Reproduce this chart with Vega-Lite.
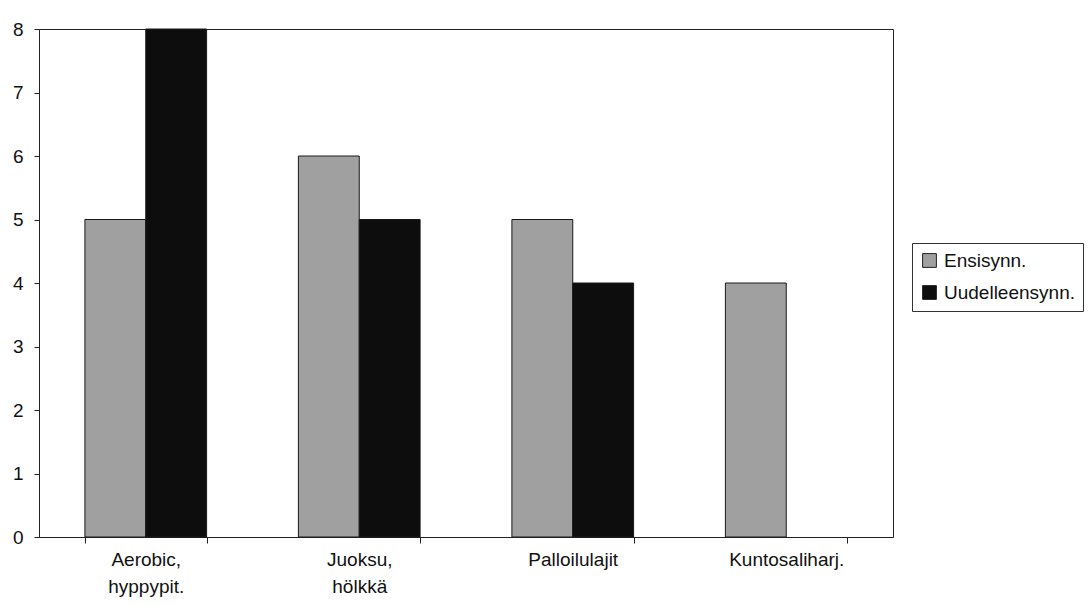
{
  "$schema": "https://vega.github.io/schema/vega-lite/v6.json",
  "autosize": "none",
  "width": 854,
  "height": 508,
  "padding": {"left": 39, "top": 29, "right": 196, "bottom": 68},
  "background": "white",
  "config": {
    "font": "Liberation Sans",
    "view": {"stroke": "#222", "strokeWidth": 1}
  },
  "data": {
    "values": [
      {"laji": "Aerobic, hyppypit.", "ryhma": "Ensisynn.", "maara": 5},
      {"laji": "Aerobic, hyppypit.", "ryhma": "Uudelleensynn.", "maara": 8},
      {"laji": "Juoksu, hölkkä", "ryhma": "Ensisynn.", "maara": 6},
      {"laji": "Juoksu, hölkkä", "ryhma": "Uudelleensynn.", "maara": 5},
      {"laji": "Palloilulajit", "ryhma": "Ensisynn.", "maara": 5},
      {"laji": "Palloilulajit", "ryhma": "Uudelleensynn.", "maara": 4},
      {"laji": "Kuntosaliharj.", "ryhma": "Ensisynn.", "maara": 4},
      {"laji": "Kuntosaliharj.", "ryhma": "Uudelleensynn.", "maara": 0}
    ]
  },
  "mark": {"type": "bar", "stroke": "#1a1a1a"},
  "encoding": {
    "x": {
      "field": "laji",
      "type": "nominal",
      "sort": null,
      "title": null,
      "scale": {"paddingInner": 0.43, "paddingOuter": 0.215},
      "axis": {
        "labelAngle": 0,
        "labelExpr": "split(datum.label, ' ')",
        "labelFontSize": 19,
        "labelColor": "#111",
        "labelPadding": 7,
        "labelLineHeight": 27,
        "tickBand": "extent",
        "tickSize": 6,
        "tickColor": "#222",
        "domainColor": "#222",
        "grid": false
      }
    },
    "xOffset": {"field": "ryhma", "type": "nominal", "sort": ["Ensisynn.", "Uudelleensynn."]},
    "y": {
      "field": "maara",
      "type": "quantitative",
      "title": null,
      "scale": {"domain": [0, 8], "nice": false},
      "axis": {
        "values": [0, 1, 2, 3, 4, 5, 6, 7, 8],
        "labelFontSize": 19,
        "labelColor": "#111",
        "labelPadding": 11,
        "tickSize": 5,
        "tickColor": "#222",
        "domainColor": "#222",
        "grid": false
      }
    },
    "strokeWidth": {
      "condition": {"test": "datum.maara > 0", "value": 1},
      "value": 0
    },
    "color": {
      "field": "ryhma",
      "type": "nominal",
      "sort": ["Ensisynn.", "Uudelleensynn."],
      "scale": {"domain": ["Ensisynn.", "Uudelleensynn."], "range": ["#a0a0a0", "#0d0d0d"]},
      "legend": {
        "title": null,
        "orient": "none",
        "legendX": 873,
        "legendY": 214,
        "symbolType": "square",
        "symbolSize": 190,
        "symbolStrokeColor": "#222",
        "symbolStrokeWidth": 1,
        "labelFontSize": 19,
        "labelColor": "#111",
        "labelOffset": 5,
        "labelLimit": 300,
        "rowPadding": 12,
        "padding": 8,
        "strokeColor": "#333",
        "fillColor": "white"
      }
    }
  }
}
